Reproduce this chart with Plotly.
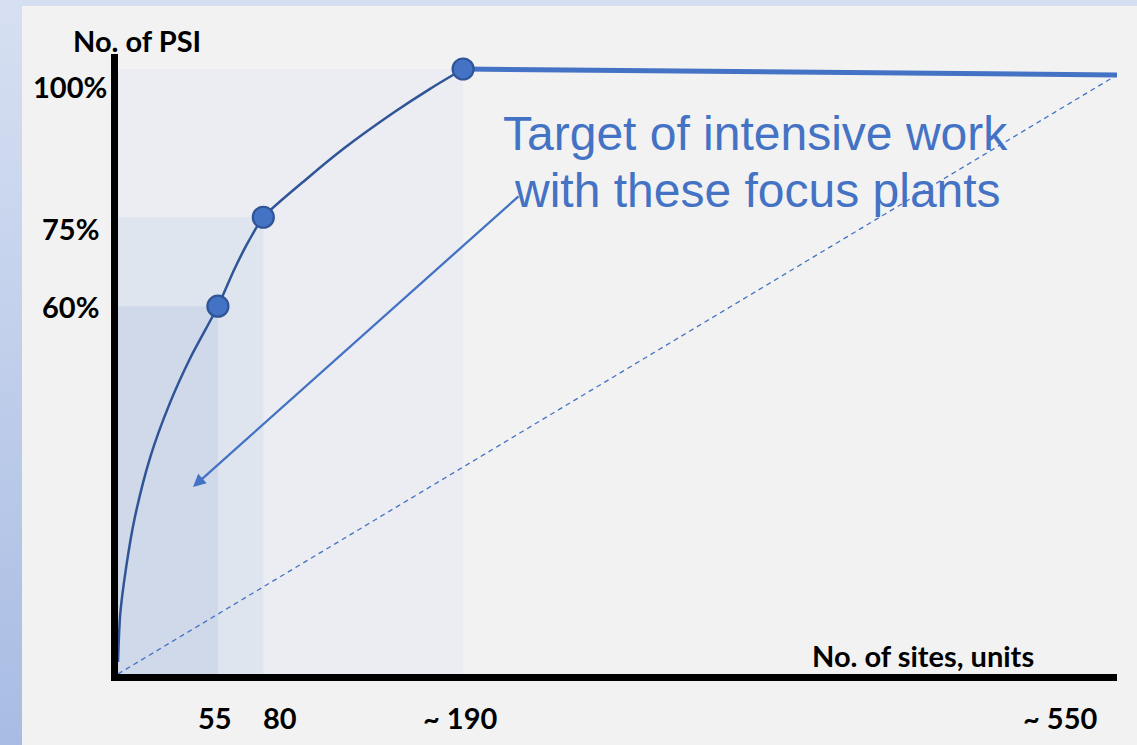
import urllib.parse
import plotly.graph_objects as go

# Cumulative share of PSI vs. number of sites
milestone_sites = [55, 80, 190]
milestone_share = [60, 75, 100]

# Saturation curve through the milestones (share of PSI, %)
curve_sites = [0, 1.2, 4.5, 9, 17.6, 28.6, 40, 55, 64, 72, 80, 104, 125, 152, 172, 190]
curve_share = [0, 8, 16, 24, 34.4, 43.7, 51.4, 60, 66.2, 71, 75, 81.5, 86.75, 92.7, 96.7, 100]

# Plateau after all PSI are covered, and the uniform-distribution reference
plateau_sites = [190, 550]
plateau_share = [100, 99]
uniform_sites = [0, 550]
uniform_share = [0, 99]

x_ticks = [55, 80, 190, 550]
x_tick_text = ["55", "80", "~ 190", "~ 550"]
y_ticks = [60, 75, 100]
y_tick_text = ["60%", "75%", "100%"]

# ---- layout geometry (pixels) ----
W, H = 1137, 745
L, R, T, B = 118, 20, 54, 71
PW, PH = W - L - R, H - T - B
X_MAX = 550
Y_PER_UNIT = 5.93          # pixels per percentage point
Y_ZERO_PX = 662            # pixel row of 0 %
Y_MIN = -((H - B) - Y_ZERO_PX) / Y_PER_UNIT
Y_MAX = (Y_ZERO_PX - T) / Y_PER_UNIT

BLUE = "#4472c4"
DARK = "#2f5597"
LABEL_FONT = dict(family="Lato, 'Open Sans', sans-serif", size=29, color="black")


def px_to_paper_x(px):
    return (px - L) / PW


def px_to_paper_y(py):
    return (H - B - py) / PH


fig = go.Figure()

# Dashed diagonal from the axes corner: uniform distribution of PSI across sites
fig.add_shape(type="line", xref="x", yref="y",
              x0=uniform_sites[0], y0=max(uniform_share[0], Y_MIN) if uniform_share[0] > 0 else Y_MIN,
              x1=uniform_sites[1], y1=uniform_share[1],
              line=dict(color=BLUE, width=1.3, dash="5px,4px"), layer="above")

# Plateau
fig.add_trace(go.Scatter(
    x=plateau_sites, y=plateau_share, mode="lines",
    line=dict(color=BLUE, width=5),
    hoverinfo="skip", showlegend=False, cliponaxis=False,
))

# Saturation curve
fig.add_trace(go.Scatter(
    x=curve_sites, y=curve_share, mode="lines",
    line=dict(color=DARK, width=2.5, shape="spline", smoothing=0.7),
    hoverinfo="skip", showlegend=False,
))

# Milestone markers
fig.add_trace(go.Scatter(
    x=milestone_sites, y=milestone_share, mode="markers",
    marker=dict(size=21, color=BLUE, line=dict(color=DARK, width=2.2)),
    hoverinfo="skip", showlegend=False, cliponaxis=False,
))

# Shaded coverage areas, largest first
rect_colors = ["#ebedf2", "#dfe5ef", "#cfd9ea"]
for sx, sy, col in zip(reversed(milestone_sites), reversed(milestone_share), rect_colors):
    fig.add_shape(type="rect", x0=0, y0=Y_MIN, x1=sx, y1=sy, xref="x", yref="y",
                  fillcolor=col, line=dict(width=0), layer="below")

# Slide background strips (left gradient bar and top band)
svg = (
    "<svg xmlns='http://www.w3.org/2000/svg' width='{w}' height='{h}' viewBox='0 0 {w} {h}' "
    "preserveAspectRatio='none'>"
    "<defs><linearGradient id='g' x1='0' y1='0' x2='0' y2='1'>"
    "<stop offset='0' stop-color='#d7e0f2'/><stop offset='1' stop-color='#a8bce3'/>"
    "</linearGradient></defs>"
    "<rect x='0' y='0' width='22' height='{h}' fill='url(#g)'/>"
    "<rect x='22' y='0' width='{w2}' height='6' fill='#d5dff1'/>"
    "</svg>"
).format(w=W, h=H, w2=W - 22)
fig.add_layout_image(dict(
    source="data:image/svg+xml;charset=utf-8," + urllib.parse.quote(svg),
    xref="paper", yref="paper",
    x=px_to_paper_x(0), y=px_to_paper_y(0),
    sizex=W / PW, sizey=H / PH,
    xanchor="left", yanchor="top", sizing="stretch", layer="below",
))

# Tick labels
x_shift = [-3, 17, -3, -57]
for v, txt, dx in zip(x_ticks, x_tick_text, x_shift):
    fig.add_annotation(x=v, y=px_to_paper_y(717), xref="x", yref="paper",
                       text="<b>" + txt + "</b>", showarrow=False, xshift=dx,
                       xanchor="center", yanchor="middle", font=LABEL_FONT)

y_shift = [0, -11, -17]
for v, txt, dy in zip(y_ticks, y_tick_text, y_shift):
    fig.add_annotation(x=px_to_paper_x(70), y=v, xref="paper", yref="y",
                       text="<b>" + txt + "</b>", showarrow=False, yshift=dy,
                       xanchor="center", yanchor="middle", font=LABEL_FONT)

# Axis titles
fig.add_annotation(x=px_to_paper_x(137), y=px_to_paper_y(40), xref="paper", yref="paper",
                   text="<b>No. of PSI</b>", showarrow=False,
                   xanchor="center", yanchor="middle", font=LABEL_FONT)
fig.add_annotation(x=px_to_paper_x(923), y=px_to_paper_y(655), xref="paper", yref="paper",
                   text="<b>No. of sites, units</b>", showarrow=False,
                   xanchor="center", yanchor="middle", font=LABEL_FONT)

# Callout text and arrow
CALLOUT_FONT = dict(family="'Liberation Sans', Arial, sans-serif", size=48, color=BLUE)
fig.add_annotation(x=px_to_paper_x(755), y=px_to_paper_y(133), xref="paper", yref="paper",
                   text="Target of intensive work", showarrow=False,
                   xanchor="center", yanchor="middle", font=CALLOUT_FONT)
fig.add_annotation(x=px_to_paper_x(757), y=px_to_paper_y(190), xref="paper", yref="paper",
                   text="with these focus plants", showarrow=False,
                   xanchor="center", yanchor="middle", font=CALLOUT_FONT)
fig.add_annotation(x=px_to_paper_x(193), y=px_to_paper_y(487),
                   ax=520 - 193, ay=195 - 487,
                   xref="paper", yref="paper", axref="pixel", ayref="pixel",
                   text="", showarrow=True, arrowhead=2, arrowsize=1.1, arrowwidth=2.3,
                   arrowcolor=BLUE, standoff=0)

fig.update_xaxes(range=[0, X_MAX], showgrid=False, zeroline=False, showticklabels=False,
                 ticks="", showline=True, linecolor="black", linewidth=7)
fig.update_yaxes(range=[Y_MIN, Y_MAX], showgrid=False, zeroline=False, showticklabels=False,
                 ticks="", showline=True, linecolor="black", linewidth=7)

fig.update_layout(
    width=W, height=H,
    margin=dict(l=L, r=R, t=T, b=B, pad=0),
    paper_bgcolor="#f2f2f2", plot_bgcolor="rgba(0,0,0,0)",
    showlegend=False,
)

fig.write_html("out.html")
